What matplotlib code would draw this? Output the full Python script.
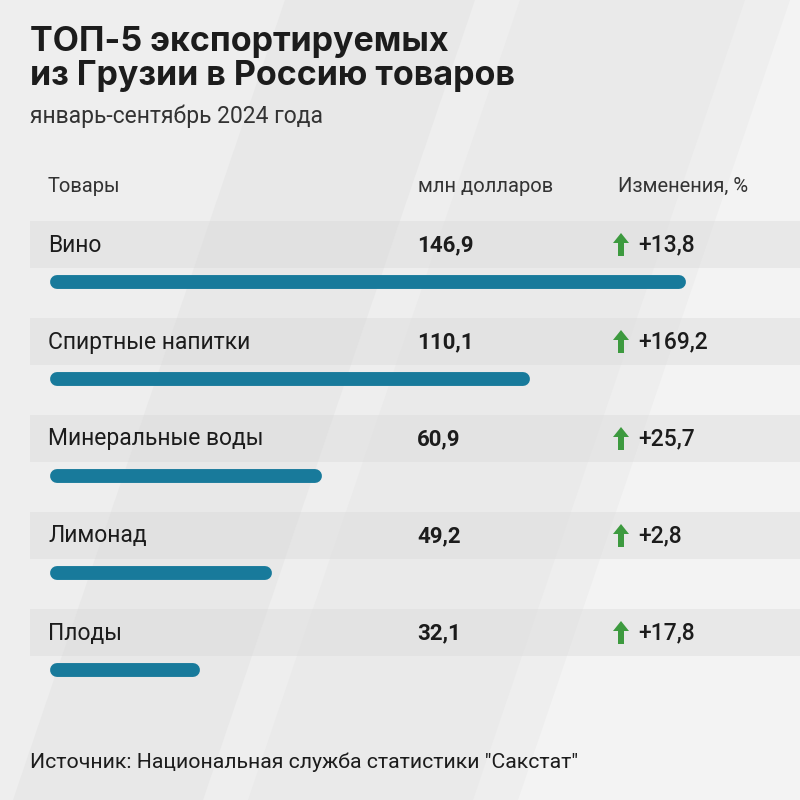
import matplotlib
matplotlib.use('Agg')
from matplotlib import pyplot as plt
from matplotlib.patches import Polygon, Rectangle, FancyArrow


# data
goods   = ['Вино', 'Спиртные напитки', 'Минеральные воды', 'Лимонад', 'Плоды']
values  = [146.9, 110.1, 60.9, 49.2, 32.1]
changes = [13.8, 169.2, 25.7, 2.8, 17.8]

title_lines = ['ТОП-5 экспортируемых', 'из Грузии в Россию товаров']
subtitle    = 'январь-сентябрь 2024 года'
headers     = ['Товары', 'млн долларов', 'Изменения, %']
source      = 'Источник: Национальная служба статистики "Сакстат"'

BG    = '#eeeeee'
BAR   = '#187a9b'
ARROW = '#3d9a3f'
TXT   = '#1c1c1c'

fmt = lambda v: f'{v:.1f}'.replace('.', ',')

fig = plt.figure(figsize=(8, 8), dpi=100)
fig.patch.set_facecolor(BG)
ax = fig.add_axes([0, 0, 1, 1])
ax.set_xlim(0, 800)
ax.set_ylim(800, 0)
ax.axis('off')

# diagonal background stripes
k = 0.34
for x0, x1, c in [(285, 475, '#e8e8e8'), (520, 745, '#eaeaea'), (790, 1100, '#f3f3f3')]:
    ax.add_patch(Polygon([(x0, 0), (x1, 0), (x1 - k*800, 800), (x0 - k*800, 800)],
                         closed=True, fc=c, ec='none', zorder=0))

# titles
for i, line in enumerate(title_lines):
    ax.text(30, 51 + 34*i, line, fontsize=24.5, fontweight='bold', family='Inter', color=TXT,
            va='baseline')
ax.text(30, 123, subtitle, fontsize=16.5, family='Roboto', color='#333333', va='baseline')

# header
for x, s in zip([48, 418, 618], headers):
    ax.text(x, 186, s, fontsize=14.5, family='Roboto', color='#333333', va='center')

# rows
row_y = [245 + 97*i for i in range(len(goods))]
for y, name, v, ch in zip(row_y, goods, values, changes):
    ax.add_patch(Rectangle((30, y - 24), 770, 47, fc='#d6d6d6', ec='none', alpha=0.35, zorder=1))
    ax.text(48, y, name, fontsize=16.5, family='Roboto', color=TXT, va='center', zorder=3)
    ax.text(417, y, fmt(v), fontsize=16, family='Roboto', fontweight='bold', color=TXT,
            va='center', zorder=3)
    ax.add_patch(FancyArrow(621, y + 11, 0, -13, width=6, head_width=16, head_length=10,
                            length_includes_head=False, fc=ARROW, ec='none', zorder=3))
    ax.text(638, y, '+' + fmt(ch), fontsize=16.5, family='Roboto', fontweight='medium',
            color=TXT, va='center', zorder=3)

# bars (round caps add ~7 px each side)
bax = fig.add_axes([57/800, 0, (679 - 57)/800, 1])
bax.set_xlim(0, max(values))
bax.set_ylim(800, 0)
bax.axis('off')
bax.patch.set_alpha(0)
for y, v in zip(row_y, values):
    bax.plot([0, v], [y + 37, y + 37], color=BAR, lw=10, solid_capstyle='round', clip_on=False)

ax.text(30, 762, source, fontsize=15.3, family='Roboto', color=TXT, va='center')

plt.savefig('out.png', dpi=100, facecolor=BG)
